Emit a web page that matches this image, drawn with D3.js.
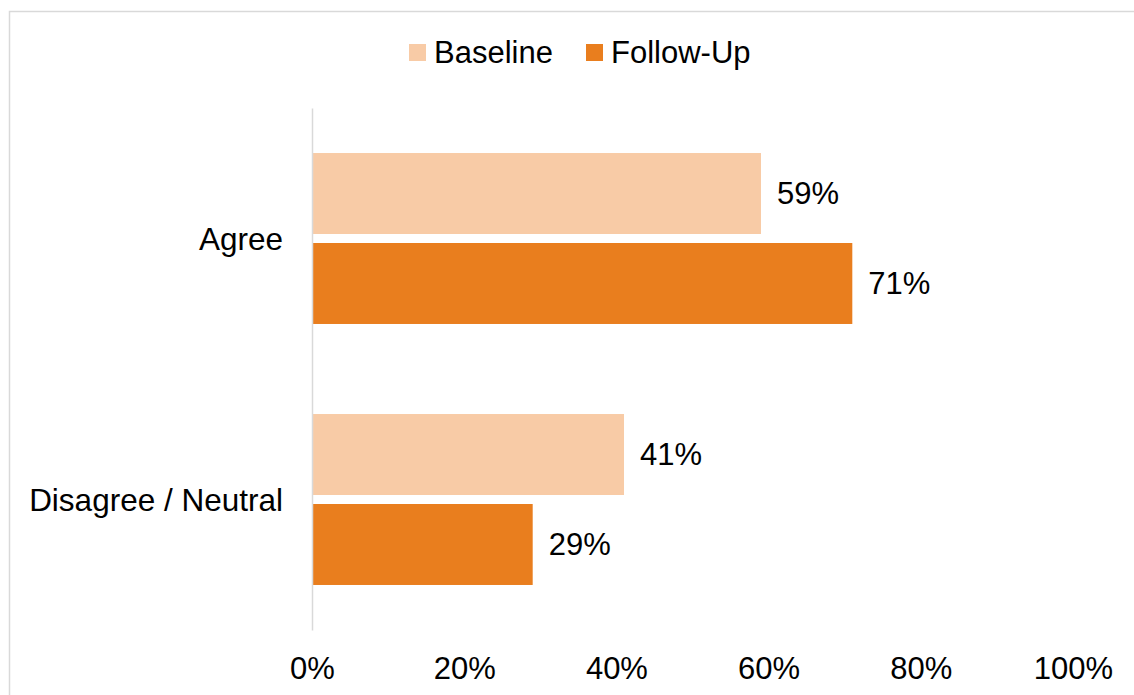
<!doctype html>
<html lang="en">

<head>
    <meta charset="UTF-8">
    <title>Agree vs Disagree</title>
    <style>
        body { margin: 0; background: #fff; }
        svg text { font-family: Arial, "Liberation Sans", sans-serif; fill: #000; }
    </style>
</head>

<body>
    <svg width="1134" height="695"></svg>
    <script src="https://cdn.jsdelivr.net/npm/d3@7"></script>
    <script>
    var categories = ['Agree', 'Disagree / Neutral'];
    var seriesNames = ['Baseline', 'Follow-Up'];
    var baseline = [0.59, 0.41];
    var followUp = [0.71, 0.29];
    var xTicks = [0, 0.2, 0.4, 0.6, 0.8, 1.0];
    var colors = ['#F8CBA6', '#E97E1E'];

    var svg = d3.select('svg');
    var fontSize = 31;

    // chart border (runs off the right and bottom edge)
    svg.append('rect')
        .attr('x', 9.5)
        .attr('y', 11.5)
        .attr('width', 1200)
        .attr('height', 800)
        .attr('fill', 'none')
        .attr('stroke', '#d9d9d9')
        .attr('stroke-width', 1.5);

    var x = d3.scaleLinear()
        .domain([0, 1])
        .range([312, 1073]);
    var y = d3.scaleBand()
        .domain(categories)
        .range([108, 630])
        .paddingInner(0.345)
        .paddingOuter(0.1725);
    var ySub = d3.scaleBand()
        .domain(seriesNames)
        .range([0, y.bandwidth()])
        .paddingInner(0.1);

    var rows = categories.map(function(c, i) {
        return { cat: c, values: [baseline[i], followUp[i]] };
    });

    // bars
    var groups = svg.append('g')
        .selectAll('g')
        .data(rows)
        .enter()
        .append('g')
        .attr('transform', function(d) { return 'translate(0,' + y(d.cat) + ')'; });

    groups.selectAll('rect')
        .data(function(d) { return d.values; })
        .enter()
        .append('rect')
        .attr('x', x(0))
        .attr('y', function(d, i) { return ySub(seriesNames[i]); })
        .attr('width', function(d) { return x(d) - x(0); })
        .attr('height', ySub.bandwidth())
        .attr('fill', function(d, i) { return colors[i]; });

    groups.selectAll('text')
        .data(function(d) { return d.values; })
        .enter()
        .append('text')
        .attr('x', function(d) { return x(d) + 16; })
        .attr('y', function(d, i) { return ySub(seriesNames[i]) + ySub.bandwidth() / 2; })
        .attr('dy', '0.35em')
        .style('font-size', fontSize + 'px')
        .text(function(d) { return Math.round(d * 100) + '%'; });

    // category axis
    var yAxis = svg.append('g')
        .attr('transform', 'translate(' + x(0) + ',0)')
        .call(d3.axisLeft(y).tickSize(0).tickPadding(29));
    yAxis.select('.domain')
        .attr('stroke', '#d9d9d9')
        .attr('stroke-width', 1.5);
    yAxis.selectAll('text')
        .style('font-size', '31.5px')
        .attr('dy', '0.35em');

    // value axis labels (no line)
    var xAxis = svg.append('g')
        .attr('transform', 'translate(0,630)')
        .call(d3.axisBottom(x).tickValues(xTicks).tickSize(0).tickPadding(27)
            .tickFormat(d3.format('.0%')));
    xAxis.select('.domain').remove();
    xAxis.selectAll('text')
        .style('font-size', fontSize + 'px');

    // legend
    var legendX = [409, 586];
    var legend = svg.append('g')
        .selectAll('g')
        .data(seriesNames)
        .enter()
        .append('g')
        .attr('transform', function(d, i) { return 'translate(' + legendX[i] + ',44)'; });
    legend.append('rect')
        .attr('width', 17)
        .attr('height', 17)
        .attr('fill', function(d, i) { return colors[i]; });
    legend.append('text')
        .attr('x', 25)
        .attr('y', 18.5)
        .style('font-size', fontSize + 'px')
        .text(function(d) { return d; });
    </script>
</body>

</html>
